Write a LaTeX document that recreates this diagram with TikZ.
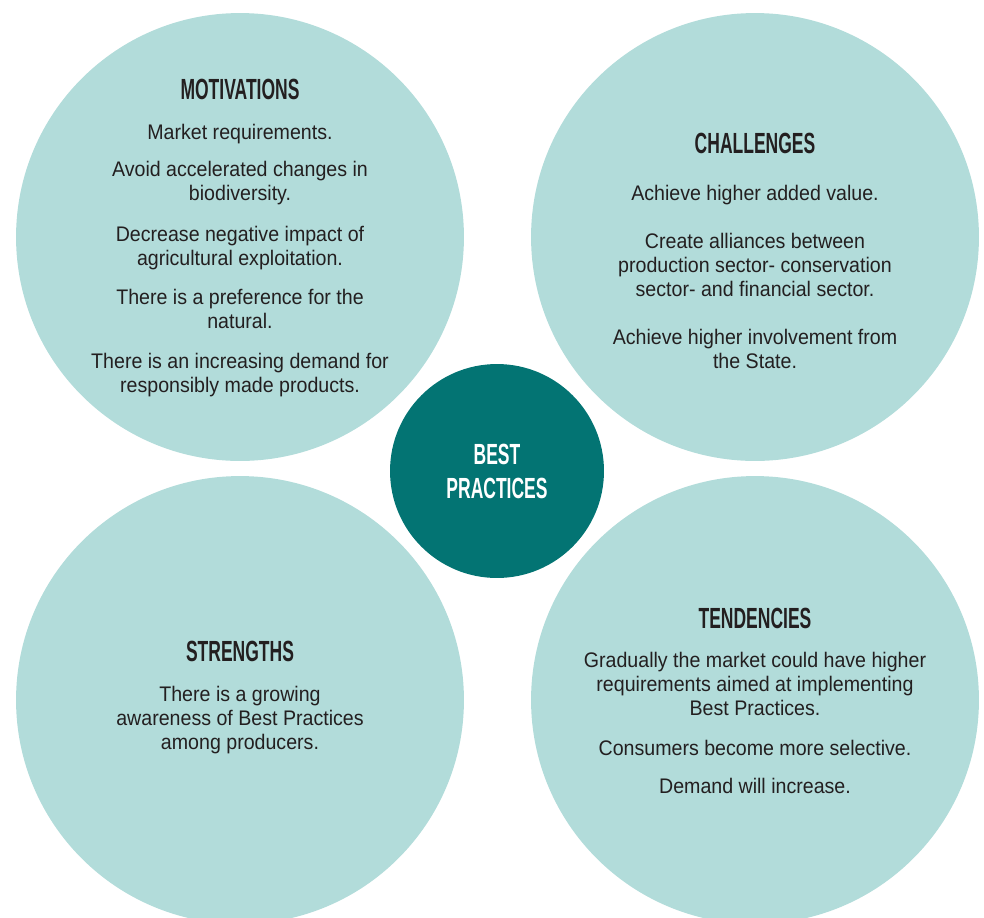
\documentclass[tikz,border=0pt]{standalone}
\usepackage{fontspec}
\usepackage{tikz}
\setmainfont{Liberation Sans}[FakeStretch=0.93]
\newfontfamily\headfont{Liberation Sans}[FakeStretch=0.6]
\definecolor{bubblefill}{HTML}{B2DCDA}
\definecolor{corefill}{HTML}{037473}
\definecolor{inkgray}{HTML}{231F20}

\begin{document}
\begin{tikzpicture}[
		x=0.02cm, y=-0.02cm,
		every node/.style={inner sep=0pt},
		bubble/.style={circle, fill=bubblefill, minimum size=8.96cm},
		heading/.style={font=\headfont\bfseries\fontsize{16.6}{19.3}\selectfont, text=inkgray, anchor=base},
		body/.style={font=\fontsize{12}{13.4}\selectfont, text=inkgray, align=center, anchor=base}
	]
  \useasboundingbox (0,0) rectangle (984,917);
  \clip (0,0) rectangle (984,917);
  \node (motivations) [bubble] at (240,237) {};
  \node (challenges) [bubble] at (755,237) {};
  \node (strengths) [bubble] at (240,700) {};
  \node (tendencies) [bubble] at (755,700) {};
  \node (core) [circle, fill=corefill, minimum size=4.28cm, heading, anchor=center, text=white, align=center] at (497,471) {BEST\\PRACTICES};

  % body nodes sit on the baseline of their last line
  \node (motiv_head) [heading] at (240,99) {MOTIVATIONS};
  \node (motiv_1) [body] at (240,139) {Market requirements.};
  \node (motiv_2) [body] at (240,200) {Avoid accelerated changes in\\biodiversity.};
  \node (motiv_3) [body] at (240,265) {Decrease negative impact of\\agricultural exploitation.};
  \node (motiv_4) [body] at (240,328) {There is a preference for the\\natural.};
  \node (motiv_5) [body] at (240,392) {There is an increasing demand for\\responsibly made products.};

  \node (chall_head) [heading] at (755,153) {CHALLENGES};
  \node (chall_1) [body] at (755,200) {Achieve higher added value.};
  \node (chall_2) [body] at (755,296) {Create alliances between\\production sector- conservation\\sector- and financial sector.};
  \node (chall_3) [body] at (755,368) {Achieve higher involvement from\\the State.};

  \node (strength_head) [heading] at (240,661) {STRENGTHS};
  \node (strength_1) [body] at (240,749) {There is a growing\\awareness of Best Practices\\among producers.};

  \node (tend_head) [heading] at (755,628) {TENDENCIES};
  \node (tend_1) [body] at (755,715) {Gradually the market could have higher\\requirements aimed at implementing\\Best Practices.};
  \node (tend_2) [body] at (755,755) {Consumers become more selective.};
  \node (tend_3) [body] at (755,793) {Demand will increase.};
\end{tikzpicture}
\end{document}
